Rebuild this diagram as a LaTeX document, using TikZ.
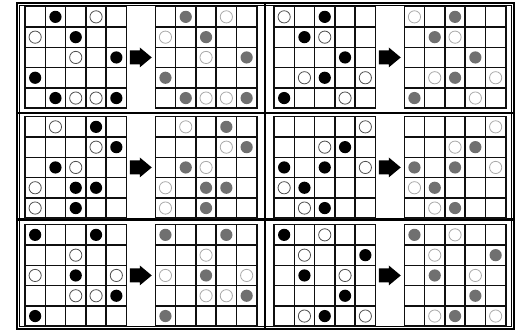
\documentclass[tikz,border=0pt]{standalone}
\usepackage{tikz}
\usetikzlibrary{positioning}
\definecolor{gridblack}{RGB}{15,15,15}
\definecolor{stonegray}{RGB}{112,112,112}
\definecolor{ringdark}{RGB}{80,80,80}
\definecolor{ringpale}{RGB}{170,170,170}

\begin{document}
\begin{tikzpicture}[
  x=1pt, y=-1pt,
  gridline/.style={line width=1.45pt, draw=gridblack, line cap=rect},
  frameline/.style={line width=2pt, draw=black},
  thinframe/.style={line width=1pt, draw=black},
  divider/.style={line width=2.2pt, draw=black},
  stone lb/.style={fill=black},
  stone lw/.style={draw=ringdark, line width=0.8pt, fill=white},
  stone rb/.style={fill=stonegray},
  stone rw/.style={draw=ringpale, line width=0.8pt, fill=white},
  turn/.style={fill=black}
]
  \useasboundingbox (0,0) rectangle (517,330);

  % frame and dividers
  \draw[frameline] (16.5,2.5) rectangle (513.5,328.8);
  \draw[thinframe] (19,5) rectangle (511,326.3);
  \draw[divider] (265,2.5) -- (265,328.8);
  \draw[divider] (16.5,112.7) -- (513.5,112.7);
  \draw[divider] (16.5,219.5) -- (513.5,219.5);

  % panels: origin x / grid top / stones (column/row/kind)
  \foreach \px/\gy/\stones [count=\n] in {
    17/6.7/{2/1/b,4/1/w,1/2/w,3/2/b,3/3/w,5/3/b,1/4/b,2/5/b,3/5/w,4/5/w,5/5/b},
    266/6.7/{1/1/w,3/1/b,2/2/b,3/2/w,4/3/b,2/4/w,3/4/b,5/4/w,1/5/b,4/5/w},
    17/116.7/{2/1/w,4/1/b,4/2/w,5/2/b,2/3/b,3/3/w,1/4/w,3/4/b,4/4/b,1/5/w,3/5/b},
    266/116.7/{5/1/w,3/2/w,4/2/b,1/3/b,3/3/b,5/3/w,1/4/w,2/4/b,2/5/w,3/5/b},
    17/224.7/{1/1/b,4/1/b,3/2/w,1/3/w,3/3/b,5/3/w,3/4/w,4/4/w,5/4/b,1/5/b},
    266/224.7/{1/1/b,3/1/w,2/2/w,5/2/b,2/3/b,4/3/w,4/4/b,2/5/w,3/5/b,5/5/w}}{
    \foreach \side/\dx in {l/8, r/138.3}{
      \foreach \i in {0,...,5}{
        \draw[gridline] (\px+\dx+\i*20.3, \gy) -- ++(0,101.5);
        \draw[gridline] (\px+\dx, \gy+\i*20.3) -- ++(101.5,0);
      }
      \foreach \c/\r/\k in \stones
        \path[stone \side\k] (\px+\dx+\c*20.3-10.15, \gy+\r*20.3-10.15) circle[radius=6.1];
    }
    \coordinate (arrow\n) at (\px+123.75, \gy+50.75);
    \fill[turn] (arrow\n) ++(-11,-7) -- ++(10,0) -- ++(0,-3) -- ++(12,10)
      -- ++(-12,10) -- ++(0,-3) -- ++(-10,0) -- cycle;
  }
\end{tikzpicture}
\end{document}
